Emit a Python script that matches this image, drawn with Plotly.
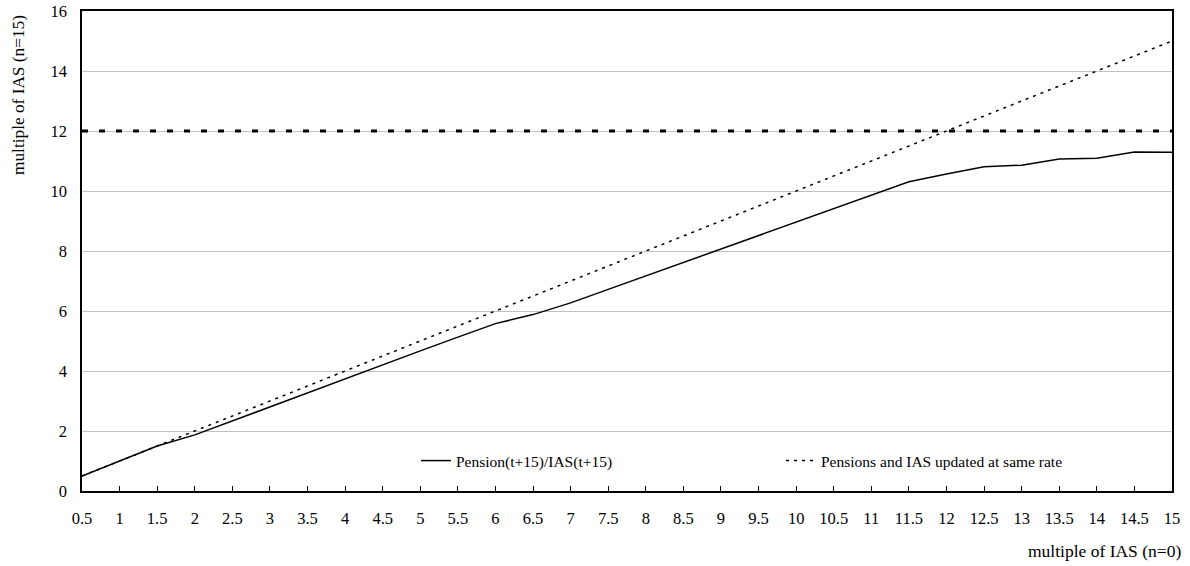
import plotly.graph_objects as go

# Data
x_vals = [0.5, 1, 1.5, 2, 2.5, 3, 3.5, 4, 4.5, 5, 5.5, 6, 6.5, 7, 7.5, 8, 8.5, 9, 9.5, 10,
          10.5, 11, 11.5, 12, 12.5, 13, 13.5, 14, 14.5, 15]
x_labels = ["0.5", "1", "1.5", "2", "2.5", "3", "3.5", "4", "4.5", "5", "5.5", "6", "6.5", "7",
            "7.5", "8", "8.5", "9", "9.5", "10", "10.5", "11", "11.5", "12", "12.5", "13",
            "13.5", "14", "14.5", "15"]
pension_ratio = [0.5, 1.0, 1.5, 1.87, 2.34, 2.8, 3.27, 3.73, 4.2, 4.67, 5.13, 5.58, 5.88, 6.27,
                 6.72, 7.17, 7.62, 8.07, 8.52, 8.97, 9.42, 9.87, 10.31, 10.57, 10.81, 10.86,
                 11.07, 11.09, 11.3, 11.29]
same_rate = [0.5, 1, 1.5, 2, 2.5, 3, 3.5, 4, 4.5, 5, 5.5, 6, 6.5, 7, 7.5, 8, 8.5, 9, 9.5, 10,
             10.5, 11, 11.5, 12, 12.5, 13, 13.5, 14, 14.5, 15]
threshold_x = [0.5, 15]
threshold_y = [12, 12]
y_ticks = [0, 2, 4, 6, 8, 10, 12, 14, 16]

FONT = "Liberation Serif"

fig = go.Figure()
fig.add_trace(go.Scatter(
    x=threshold_x, y=threshold_y, mode="lines", showlegend=False,
    line=dict(color="black", width=3, dash="6px,11px"), hoverinfo="skip"))
fig.add_trace(go.Scatter(
    x=x_vals, y=same_rate, mode="lines", name="Pensions and IAS updated at same rate",
    line=dict(color="black", width=1.5, dash="3px,5px"), legend="legend2"))
fig.add_trace(go.Scatter(
    x=x_vals, y=pension_ratio, mode="lines", name="Pension(t+15)/IAS(t+15)",
    line=dict(color="black", width=1.5), legend="legend"))

L, R, T, B = 82, 18, 11, 75
W, H = 1190, 566
pw = W - L - R
ph = H - T - B

def px2paper(px):
    return (px - L) / pw

def py2paper(py):
    return (H - B - py) / ph

fig.update_layout(
    width=W, height=H,
    margin=dict(l=L, r=R, t=T, b=B, autoexpand=False),
    paper_bgcolor="white", plot_bgcolor="white",
    font=dict(family=FONT, size=16.5, color="black"),
    xaxis=dict(
        range=[0.5, 15], tickmode="array", tickvals=x_vals, ticktext=x_labels,
        ticks="inside", ticklen=5, tickcolor="black", tickwidth=1,
        showline=True, linecolor="black", linewidth=1.5, mirror=True,
        showgrid=False, zeroline=False, tickfont=dict(size=16.5, family=FONT),
        ticklabelstandoff=11, automargin=False,
    ),
    yaxis=dict(
        range=[0, 16], tickmode="array", tickvals=y_ticks,
        ticks="", showline=True, linecolor="black", linewidth=1.5, mirror=True,
        showgrid=True, gridcolor="#c0c0c0", gridwidth=1, zeroline=False,
        tickfont=dict(size=16.5, family=FONT), ticklabelstandoff=10, automargin=False,
    ),
    legend=dict(
        orientation="h", x=px2paper(416), y=py2paper(461), xanchor="left", yanchor="middle",
        bgcolor="rgba(0,0,0,0)", font=dict(size=15.5, family=FONT),
    ),
    legend2=dict(
        orientation="h", x=px2paper(781), y=py2paper(461), xanchor="left", yanchor="middle",
        bgcolor="rgba(0,0,0,0)", font=dict(size=15.5, family=FONT),
    ),
    annotations=[
        dict(text="multiple of IAS (n=15)", xref="paper", yref="paper",
             x=px2paper(18), y=py2paper(95), textangle=-90, showarrow=False,
             xanchor="center", yanchor="middle", font=dict(size=17.3, family=FONT)),
        dict(text="multiple of IAS (n=0)", xref="paper", yref="paper",
             x=px2paper(1183), y=py2paper(551), showarrow=False,
             xanchor="right", yanchor="middle", font=dict(size=17.5, family=FONT)),
    ],
)

fig.write_html("out.html", config={"displayModeBar": False},
               post_script="document.body.style.margin='0';")
